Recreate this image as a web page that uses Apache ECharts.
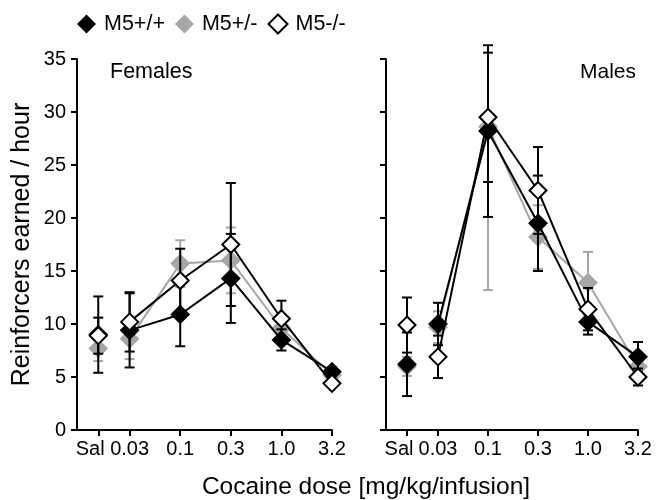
<!DOCTYPE html>
<html><head><meta charset="utf-8">
<script src="https://cdn.jsdelivr.net/npm/echarts@6/dist/echarts.min.js"></script>
<style>html,body{margin:0;padding:0;background:#fff}#c{width:658px;height:500px}</style>
</head><body><div id="c"></div>
<script>
// ---- data ----
const doses = ['Sal', '0.03', '0.1', '0.3', '1.0', '3.2'];
const dosePos = [-0.62, 0, 1, 2, 3, 4];     // tick positions on the dose axis
const labelPos = [-0.78, 0, 1, 2, 3, 4];    // label positions (Sal label nudged left)
const yTicks = [0, 5, 10, 15, 20, 25, 30, 35];

// Females
const femWT = [9.0, 9.4, 10.9, 14.3, 8.5, 5.5];
const femWTErr = [3.6, 3.5, 3.0, 4.2, 1.0, 0.4];
const femHet = [7.7, 8.6, 15.7, 16.0, 9.6, 5.2];
const femHetErr = [1.2, 1.9, 2.2, 3.1, 1.2, 0.4];
const femKO = [8.9, 10.2, 14.1, 17.5, 10.5, 4.4];
const femKOErr = [1.7, 2.8, 3.0, 5.8, 1.7, 0.3];

// Males
const maleWT = [6.2, 10.0, 28.2, 19.5, 10.2, 6.9];
const maleWTErr = [3.0, 2.0, 8.1, 4.5, 1.2, 1.4];
const maleHet = [6.0, 9.7, 28.6, 18.2, 13.9, 6.0];
const maleHetErrDown = [0.9, 1.5, 15.4, 3.0, 2.9, 0.6];
const maleHetErrUp = [0.9, 1.5, 0, 3.0, 2.9, 0.6];
const maleKO = [9.9, 6.9, 29.5, 22.6, 11.4, 5.0];
const maleKOErr = [2.6, 2.0, 6.1, 4.1, 2.0, 0.8];

const names = ['M5+/+', 'M5+/-', 'M5-/-'];
// ---- chart ----
const FONT = 'Liberation Sans, Arial, Helvetica, sans-serif';
const GREY = '#a6a6a6';
const styles = {
  'M5+/+': {line: '#000', fill: '#000', border: '#000', err: '#000'},
  'M5+/-': {line: GREY, fill: GREY, border: GREY, err: GREY},
  'M5-/-': {line: '#000', fill: '#fff', border: '#000', err: '#000'}
};
const panels = [
  {groups: [
    {name: 'M5+/-', v: femHet, dn: femHetErr, up: femHetErr},
    {name: 'M5+/+', v: femWT, dn: femWTErr, up: femWTErr},
    {name: 'M5-/-', v: femKO, dn: femKOErr, up: femKOErr}
  ]},
  {groups: [
    {name: 'M5+/-', v: maleHet, dn: maleHetErrDown, up: maleHetErrUp},
    {name: 'M5+/+', v: maleWT, dn: maleWTErr, up: maleWTErr},
    {name: 'M5-/-', v: maleKO, dn: maleKOErr, up: maleKOErr}
  ]}
];

function errRender(color) {
  return function (params, api) {
    const x = api.value(0), y = api.value(1), dn = api.value(2), up = api.value(3);
    const top = api.coord([x, y + up]);
    const bot = api.coord([x, y - dn]);
    const st = {stroke: color, lineWidth: 2};
    const ch = [{type: 'line', shape: {x1: top[0], y1: top[1], x2: bot[0], y2: bot[1]}, style: st}];
    if (up > 0) ch.push({type: 'line', shape: {x1: top[0] - 5, y1: top[1], x2: top[0] + 5, y2: top[1]}, style: st});
    if (dn > 0) ch.push({type: 'line', shape: {x1: bot[0] - 5, y1: bot[1], x2: bot[0] + 5, y2: bot[1]}, style: st});
    return {type: 'group', children: ch};
  };
}

const series = [];
panels.forEach((p, pi) => {
  p.groups.forEach((g, gi) => {
    const s = styles[g.name];
    const z = 2 + gi * 3;
    series.push({
      type: 'custom', xAxisIndex: pi, yAxisIndex: pi, z: z, clip: false, silent: true,
      renderItem: errRender(s.err),
      data: dosePos.map((x, i) => [x, g.v[i], g.dn[i], g.up[i]])
    });
    series.push({
      type: 'line', name: g.name, xAxisIndex: pi, yAxisIndex: pi, z: z + 1,
      symbol: 'diamond', symbolSize: 17, showAllSymbol: true,
      lineStyle: {color: s.line, width: 2},
      itemStyle: {color: s.fill, borderColor: s.border, borderWidth: 2, opacity: 1},
      emphasis: {disabled: true}, animation: false,
      data: dosePos.slice(1).map((x, i) => [x, g.v[i + 1]])
    });
    series.push({
      type: 'scatter', name: g.name, xAxisIndex: pi, yAxisIndex: pi, z: z + 1,
      symbol: 'diamond', symbolSize: 17,
      itemStyle: {color: s.fill, borderColor: s.border, borderWidth: 2, opacity: 1},
      emphasis: {disabled: true}, animation: false,
      data: [[dosePos[0], g.v[0]]]
    });
  });
});

function xAxisDef(gi) {
  return {
    type: 'value', gridIndex: gi, min: -1.04, max: 4,
    axisLine: {show: true, onZero: false, lineStyle: {color: '#000', width: 2}},
    axisTick: {show: true, customValues: dosePos, length: 6, lineStyle: {color: '#000', width: 2}},
    axisLabel: {show: true, customValues: labelPos, color: '#000', fontSize: 20, fontFamily: FONT, margin: 9,
      formatter: v => { const i = labelPos.indexOf(v); return i >= 0 ? doses[i] : ''; }},
    splitLine: {show: false}
  };
}
function yAxisDef(gi, showLabel) {
  const d = {
    type: 'value', gridIndex: gi, min: 0, max: 35, interval: 5,
    axisLine: {show: true, onZero: false, lineStyle: {color: '#000', width: 2}},
    axisTick: {show: true, length: 6, lineStyle: {color: '#000', width: 2}},
    axisLabel: {show: showLabel, color: '#000', fontSize: 20, fontFamily: FONT, margin: 11,
      formatter: v => yTicks.indexOf(v) >= 0 ? String(v) : ''},
    splitLine: {show: false}
  };
  if (showLabel) {
    d.name = 'Reinforcers earned / hour';
    d.nameLocation = 'middle';
    d.nameGap = 42;
    d.nameTextStyle = {color: '#000', fontSize: 25, fontFamily: FONT};
  }
  return d;
}

const option = {
  animation: false,
  backgroundColor: '#fff',
  grid: [
    {left: 77, top: 59, width: 255, height: 371},
    {left: 386, top: 59, width: 252, height: 371}
  ],
  xAxis: [xAxisDef(0), xAxisDef(1)],
  yAxis: [yAxisDef(0, true), yAxisDef(1, false)],
  legend: {
    left: 72, top: 8, icon: 'diamond', itemWidth: 19, itemHeight: 19, itemGap: 10,
    textStyle: {color: '#000', fontSize: 21.5, fontFamily: FONT, padding: [0, 0, 0, 3]},
    selectedMode: false,
    data: [
      {name: 'M5+/+', itemStyle: {color: '#000', borderColor: '#000', borderWidth: 0}},
      {name: 'M5+/-', itemStyle: {color: GREY, borderColor: GREY, borderWidth: 0}},
      {name: 'M5-/-', itemStyle: {color: '#fff', borderColor: '#000', borderWidth: 2}}
    ]
  },
  graphic: [
    {type: 'text', x: 110, y: 72, style: {text: 'Females', fill: '#000', font: '21.5px ' + FONT, textAlign: 'left', textVerticalAlign: 'middle'}},
    {type: 'text', x: 636, y: 72, style: {text: 'Males', fill: '#000', font: '21px ' + FONT, textAlign: 'right', textVerticalAlign: 'middle'}},
    {type: 'text', x: 366, y: 487, style: {text: 'Cocaine dose [mg/kg/infusion]', fill: '#000', font: '24.5px ' + FONT, textAlign: 'center', textVerticalAlign: 'middle'}}
  ],
  series: series
};
const chart = echarts.init(document.getElementById('c'), null, {renderer: 'canvas'});
chart.setOption(option);
</script></body></html>
